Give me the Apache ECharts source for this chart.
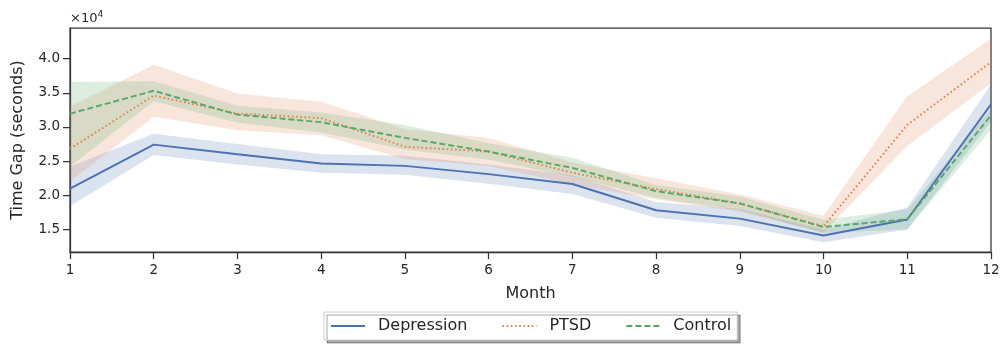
<!DOCTYPE html>
<html>
<head>
<meta charset="utf-8">
<script src="https://cdn.jsdelivr.net/npm/echarts@6/dist/echarts.min.js"></script>
<style>
  html, body { margin: 0; padding: 0; background: #fff; }
  #chart { width: 1005px; height: 345px; }
</style>
</head>
<body>
<div id="chart"></div>
<script>
// data (seconds)
const months = ['1', '2', '3', '4', '5', '6', '7', '8', '9', '10', '11', '12'];

const depression = [20970, 27410, 26000, 24650, 24300, 23100, 21650, 17800, 16570, 14100, 16450, 33300];
const depressionLow = [18400, 25900, 24500, 23300, 23000, 21700, 20200, 16700, 15500, 13100, 15000, 30800];
const depressionHigh = [24200, 29000, 27500, 26000, 25800, 24500, 22900, 19000, 18000, 15000, 18200, 36200];

const ptsd = [26800, 34600, 31950, 31300, 27100, 26400, 23300, 20900, 18800, 15450, 30300, 39500];
const ptsdLow = [22000, 31500, 29500, 28800, 25300, 24300, 21600, 19400, 17600, 14500, 27200, 36400];
const ptsdHigh = [33000, 39100, 34900, 33700, 29700, 28400, 24800, 22500, 20100, 17000, 34500, 42900];

const control = [31950, 35300, 31800, 30700, 28400, 26400, 24000, 20600, 18800, 15350, 16500, 31700];
const controlLow = [24200, 33750, 30600, 29200, 26700, 25200, 22700, 19600, 17800, 14500, 15000, 29600];
const controlHigh = [36600, 36700, 33100, 32100, 30300, 27600, 25500, 21500, 19800, 16400, 17900, 32600];

const yTicks = [15000, 20000, 25000, 30000, 35000, 40000];

const axisColor = '#333333';
const textColor = '#262626';
const font = 'DejaVu Sans';

// band = transparent lower line + stacked (high - low) area
function band(key, low, high, color) {
    return [
        {
            name: key + '_low', type: 'line', stack: key, data: low,
            symbol: 'none', silent: true, lineStyle: { opacity: 0 }, z: 1
        },
        {
            name: key + '_band', type: 'line', stack: key,
            data: high.map((v, i) => v - low[i]),
            symbol: 'none', silent: true, lineStyle: { opacity: 0 },
            areaStyle: { color: color, opacity: 1 }, z: 1
        }
    ];
}

const chart = echarts.init(document.getElementById('chart'));
const option = {
    animation: false,
    textStyle: { fontFamily: font },
    grid: {
        left: 70, right: 14, top: 28, bottom: 93,
        show: true, borderColor: axisColor, borderWidth: 1.25,
        backgroundColor: 'transparent'
    },
    graphic: [{
        type: 'text', left: 70, top: 10,
        style: {
            text: '×10{s|4}', fill: textColor, fontFamily: font, fontSize: 13,
            rich: { s: { fontSize: 9, verticalAlign: 'top', padding: [0, 0, 8, 0], fill: textColor, fontFamily: font } }
        }
    }],
    legend: {
        data: ['Depression', 'PTSD', 'Control'],
        left: 324, top: 312,
        itemWidth: 34, itemHeight: 14, itemGap: 34,
        padding: [6, 6, 6, 6],
        backgroundColor: '#fff',
        borderColor: '#cccccc', borderWidth: 1, borderRadius: 0,
        shadowColor: 'rgba(0,0,0,0.35)', shadowBlur: 0, shadowOffsetX: 3, shadowOffsetY: 3,
        itemStyle: { opacity: 0 },
        textStyle: { fontFamily: font, fontSize: 16, color: textColor, padding: [0, 0, 0, 8] }
    },
    xAxis: {
        type: 'category', data: months, boundaryGap: false,
        name: 'Month', nameLocation: 'middle', nameGap: 34,
        nameTextStyle: { fontFamily: font, fontSize: 16, color: textColor },
        axisLine: { lineStyle: { color: axisColor, width: 1.25 } },
        axisTick: { inside: false, length: 7, lineStyle: { color: axisColor, width: 1.25 } },
        axisLabel: { color: textColor, fontFamily: font, fontSize: 13.5, margin: 11 },
        splitLine: { show: false }
    },
    yAxis: {
        type: 'value', min: 11690, max: 44490,
        name: 'Time Gap (seconds)', nameLocation: 'middle', nameGap: 44,
        nameTextStyle: { fontFamily: font, fontSize: 16, color: textColor },
        axisLine: { show: true, lineStyle: { color: axisColor, width: 1.25 } },
        axisTick: { show: true, length: 7, customValues: yTicks, lineStyle: { color: axisColor, width: 1.25 } },
        axisLabel: {
            color: textColor, fontFamily: font, fontSize: 13.5, margin: 10,
            customValues: yTicks,
            formatter: v => (v / 10000).toFixed(1)
        },
        splitLine: { show: false }
    },
    series: [
        ...band('dep', depressionLow, depressionHigh, 'rgba(76,114,176,0.2)'),
        ...band('ptsd', ptsdLow, ptsdHigh, 'rgba(221,132,82,0.2)'),
        ...band('ctl', controlLow, controlHigh, 'rgba(85,168,104,0.2)'),
        {
            name: 'Depression', type: 'line', data: depression, symbol: 'none', z: 5,
            color: '#4c72b0',
            lineStyle: { color: '#4c72b0', width: 1.9, type: 'solid' }
        },
        {
            name: 'PTSD', type: 'line', data: ptsd, symbol: 'none', z: 5,
            color: '#dd8452',
            lineStyle: { color: '#dd8452', width: 2, type: [1.6, 2.6] }
        },
        {
            name: 'Control', type: 'line', data: control, symbol: 'none', z: 5,
            color: '#55a868',
            lineStyle: { color: '#55a868', width: 1.9, type: [6, 3] }
        }
    ]
};
chart.setOption(option);
</script>
</body>
</html>
